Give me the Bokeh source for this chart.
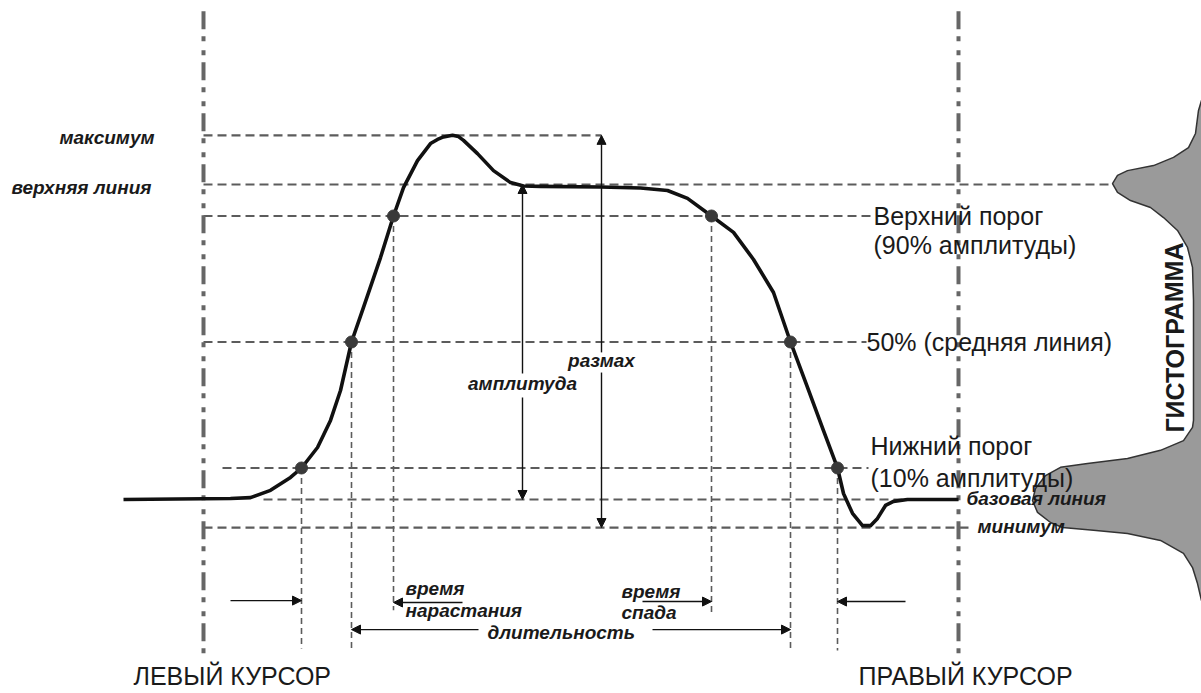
from bokeh.plotting import figure
from bokeh.models import Range1d, Label, Arrow, NormalHead
from bokeh.embed import file_html
from bokeh.resources import INLINE

# ---------------- data (levels in fractions of amplitude, time in arbitrary units) -------------
MAX_V = 1.156     # максимум
TOP_V = 1.0       # верхняя линия
P90_V = 0.9       # верхний порог
P50_V = 0.5       # средняя линия
P10_V = 0.1       # нижний порог
BASE_V = 0.0      # базовая линия
MIN_V = -0.089    # минимум

CURSOR_T = [203, 958]            # левый / правый курсор
RISE_T = [301, 351, 393]         # 10%, 50%, 90% on the rising edge
FALL_T = [711, 790, 837]         # 90%, 50%, 10% on the falling edge
RISE_LEVELS = [P10_V, P50_V, P90_V]
FALL_LEVELS = [P90_V, P50_V, P10_V]
AMP_T = 522                      # амплитуда arrow
PP_T = 601                       # размах arrow

PULSE_T = [123, 230, 250, 270, 290, 301, 317, 330, 340, 351, 363, 380, 393, 403, 417,
           430, 437, 443, 452, 458, 463, 477, 493, 510, 523, 540, 600, 640, 667, 687, 711, 733,
           753, 773, 790, 807, 823, 837, 843, 852, 862, 870, 877, 885, 893, 907, 958]
PULSE_V = [0.0, 0.003, 0.006, 0.029, 0.070, 0.10, 0.165, 0.251, 0.346, 0.50, 0.610, 0.768,
           0.90, 0.990, 1.076, 1.130, 1.143, 1.151, 1.156, 1.152, 1.140, 1.098, 1.044, 1.006,
           0.995, 0.994, 0.992, 0.989, 0.981, 0.956, 0.90, 0.848, 0.762, 0.657, 0.50, 0.356,
           0.219, 0.10, 0.019, -0.044, -0.083, -0.083, -0.060, -0.019, -0.006, 0.0, 0.0]

# histogram outline (histogram count axis drawn along time axis, level along vertical)
HIST_T = [1201, 1198, 1195, 1188, 1173, 1153, 1127, 1117, 1112, 1117, 1130, 1150, 1163,
          1177, 1187, 1192, 1193, 1193, 1192, 1183, 1160, 1127, 1087, 1060, 1045, 1035,
          1032, 1037, 1050, 1062, 1093, 1127, 1160, 1183, 1192, 1197, 1201]
HIST_V = [1.267, 1.235, 1.162, 1.117, 1.086, 1.060, 1.044, 1.029, 1.003, 0.975, 0.949,
          0.927, 0.895, 0.854, 0.800, 0.737, 0.632, 0.251, 0.229, 0.187, 0.156, 0.130,
          0.114, 0.102, 0.076, 0.035, -0.003, -0.041, -0.073, -0.089, -0.098, -0.108,
          -0.130, -0.171, -0.216, -0.267, -0.321]

# ---------------- figure ----------------
p = figure(width=1201, height=693, x_range=Range1d(0, 1201), y_range=Range1d(-0.6159, 1.5841),
           output_backend="svg", toolbar_location=None, min_border=0,
           x_axis_type=None, y_axis_type=None)
p.grid.visible = False
p.outline_line_color = None
p.background_fill_color = "white"
p.border_fill_color = "white"

DASH_C = "#5c5c5c"
FONT = "Liberation Sans"

# horizontal level lines
H_V = [MAX_V, TOP_V, P90_V, P50_V, P10_V, BASE_V, MIN_V]
H_X0 = [CURSOR_T[0], CURSOR_T[0], CURSOR_T[0], CURSOR_T[0], 222, 263, CURSOR_T[0]]
H_X1 = [PP_T, 1112, 870, 866, 868, CURSOR_T[1], 968]
p.segment(x0=H_X0, y0=H_V, x1=H_X1, y1=H_V, line_color=DASH_C, line_width=2.2, line_dash="9 5")

# vertical crossing lines
V_T = RISE_T + FALL_T
V_TOP = RISE_LEVELS + FALL_LEVELS
V_BOT = [-0.473, -0.479, -0.352, -0.359, -0.479, -0.479]
p.segment(x0=V_T, y0=V_TOP, x1=V_T, y1=V_BOT, line_color=DASH_C, line_width=1.6, line_dash="6 4")

# cursors
p.segment(x0=CURSOR_T, y0=[1.55] * 2, x1=CURSOR_T, y1=[-0.511] * 2, line_color="#666666",
          line_width=4, line_dash="18 7 5 9 5 7")

# histogram
p.patch(HIST_T + [1230, 1230], HIST_V + [-0.321, 1.267], fill_color="#9a9a9a",
        line_color="#333333", line_width=1.5)

# pulse
p.line(PULSE_T, PULSE_V, line_color="#111111", line_width=3.6, line_join="round")
p.scatter(V_T, V_TOP, size=12, fill_color="#3a3a3a", line_color="#3a3a3a")

# arrows
def arrow(x0, y0, x1, y1):
    p.add_layout(Arrow(end=NormalHead(size=9, fill_color="#111111", line_color="#111111"),
                       x_start=x0, y_start=y0, x_end=x1, y_end=y1,
                       line_color="#111111", line_width=1.4))

arrow(AMP_T, 0.40, AMP_T, TOP_V)
arrow(AMP_T, 0.324, AMP_T, BASE_V)
arrow(PP_T, 0.467, PP_T, MAX_V)
arrow(PP_T, 0.403, PP_T, MIN_V)
arrow(230, -0.321, RISE_T[0], -0.321)
arrow(462, -0.327, RISE_T[2], -0.327)
arrow(478, -0.413, RISE_T[1], -0.413)
arrow(652, -0.413, FALL_T[1], -0.413)
arrow(642, -0.324, FALL_T[0], -0.324)
arrow(905, -0.324, FALL_T[2], -0.324)

# labels
def label(x, y, text, size, style="normal", align="left", yoff=0, angle=0.0, color="#1a1a1a"):
    p.add_layout(Label(x=x, y=y, text=text, text_font=FONT, text_font_size=f"{size}px",
                       text_font_style=style, text_align=align, text_baseline="middle",
                       y_offset=yoff, angle=angle, text_color=color))

BI = "bold italic"
label(154, MAX_V, "максимум", 19, BI, "right", -2)
label(151, TOP_V, "верхняя линия", 19, BI, "right", -3)
label(PP_T, 0.441, "размах", 19, BI, "center")
label(AMP_T, 0.368, "амплитуда", 19, BI, "center")
label(966, BASE_V, "базовая линия", 19, BI, "left", 1)
label(977, MIN_V, "минимум", 19, BI, "left", 1)
label(405, -0.283, "время", 19, BI)
label(405, -0.352, "нарастания", 19, BI)
label(487, -0.422, "длительность", 19, BI)
label(621, -0.292, "время", 19, BI)
label(621, -0.359, "спада", 19, BI)

label(873, P90_V, "Верхний порог", 25)
label(873, P90_V, "(90% амплитуды)", 25, yoff=-29)
label(866, P50_V, "50% (средняя линия)", 25)
label(870, P10_V, "Нижний порог", 25, yoff=22)
label(870, P10_V, "(10% амплитуды)", 25, yoff=-10)

label(133, -0.56, "ЛЕВЫЙ КУРСОР", 25)
label(858, -0.56, "ПРАВЫЙ КУРСОР", 25)
label(1174, 0.514, "ГИСТОГРАММА", 25, "bold", "center", angle=1.5708)

open("out.html", "w").write(file_html(p, INLINE))
